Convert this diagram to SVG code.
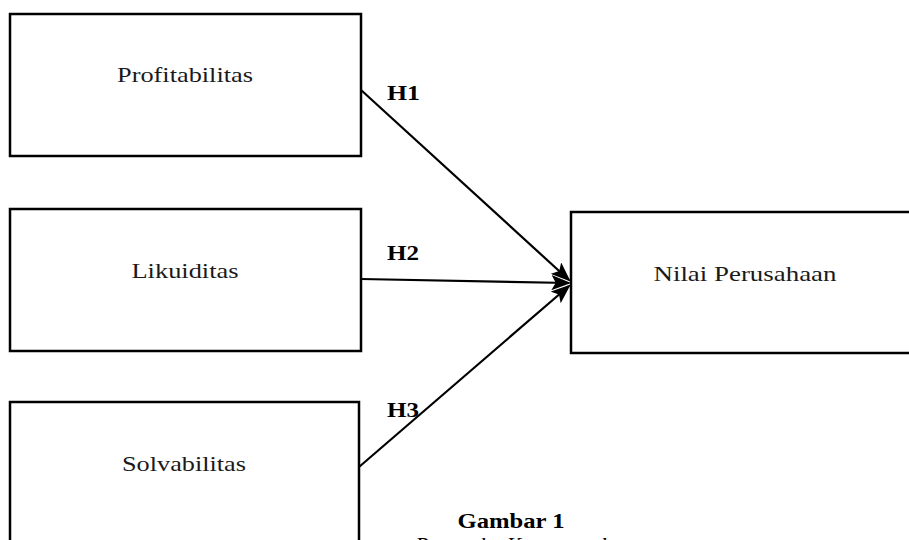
<svg xmlns="http://www.w3.org/2000/svg" width="909" height="540" viewBox="0 0 909 540">
<style>
.box{fill:#fff;stroke:#000;stroke-width:2.5}
.lbl{font-family:"Liberation Serif","DejaVu Serif",serif;font-size:22px;fill:#1a1a1a;text-anchor:middle}
.h{font-family:"Liberation Serif","DejaVu Serif",serif;font-size:22px;font-weight:bold;fill:#000}
.conn{stroke:#000;stroke-width:2.2;fill:none;marker-end:url(#ah)}
</style>
<defs>
<marker id="ah" markerWidth="9" markerHeight="7" refX="8" refY="3.5" orient="auto" markerUnits="strokeWidth">
<path d="M0,0 L9,3.5 L0,7 L2,3.5 Z" fill="#000"/>
</marker>
</defs>
<rect width="909" height="540" fill="#fff"/>
<g id="profitabilitas">
<rect class="box" x="10" y="14" width="351" height="142"/>
<text class="lbl" x="185" y="82" textLength="136" lengthAdjust="spacingAndGlyphs">Profitabilitas</text>
</g>
<g id="likuiditas">
<rect class="box" x="10" y="209" width="351" height="142"/>
<text class="lbl" x="185" y="278" textLength="107" lengthAdjust="spacingAndGlyphs">Likuiditas</text>
</g>
<g id="solvabilitas">
<rect class="box" x="10" y="402" width="349" height="160"/>
<text class="lbl" x="184" y="471" textLength="124" lengthAdjust="spacingAndGlyphs">Solvabilitas</text>
</g>
<g id="nilai">
<rect class="box" x="571" y="212" width="360" height="141"/>
<text class="lbl" x="745" y="281" textLength="183" lengthAdjust="spacingAndGlyphs">Nilai Perusahaan</text>
</g>
<g id="connectors">
<line class="conn" x1="361" y1="90" x2="569" y2="280"/>
<line class="conn" x1="361" y1="279" x2="569" y2="283"/>
<line class="conn" x1="359" y1="467" x2="569" y2="286"/>
</g>
<g id="labels">
<text class="h" x="387" y="100" textLength="33" lengthAdjust="spacingAndGlyphs">H1</text>
<text class="h" x="387" y="260" textLength="32" lengthAdjust="spacingAndGlyphs">H2</text>
<text class="h" x="387" y="417" textLength="32" lengthAdjust="spacingAndGlyphs">H3</text>
</g>
<g id="caption">
<text x="511" y="528" textLength="107" lengthAdjust="spacingAndGlyphs" style="font-family:'Liberation Serif','DejaVu Serif',serif;font-size:22px;font-weight:bold;text-anchor:middle">Gambar 1</text>
<text x="511" y="552" style="font-family:'Liberation Serif','DejaVu Serif',serif;font-size:22px;font-style:italic;text-anchor:middle">Rerangka Konseptual</text>
</g>
</svg>
